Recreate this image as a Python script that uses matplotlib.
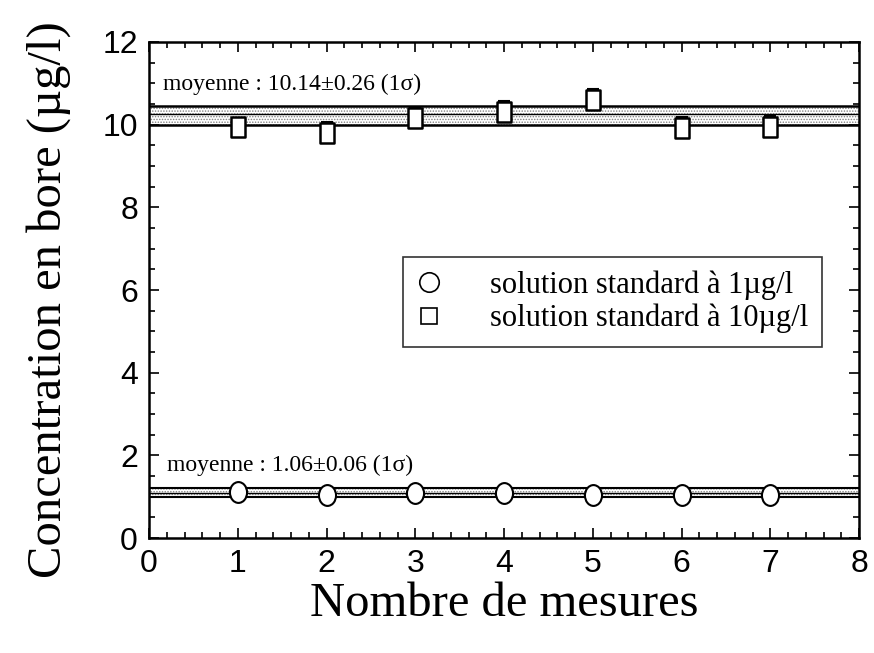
import numpy as np
import matplotlib
matplotlib.use("Agg")
import matplotlib.pyplot as plt
from matplotlib.path import Path
from matplotlib.transforms import Affine2D
from matplotlib.lines import Line2D
from matplotlib.ticker import MultipleLocator

# data
mesures = [1, 2, 3, 4, 5, 6, 7]
std_1 = [1.12, 1.05, 1.08, 1.09, 1.04, 1.03, 1.03]
std_10 = [9.94, 9.80, 10.16, 10.31, 10.60, 9.92, 9.94]
err_10 = [0.20, 0.27, 0.24, 0.26, 0.26, 0.27, 0.27]

# mean bands as drawn (lower, middle, upper)
band_1 = [1.00, 1.10, 1.20]
band_10 = [9.98, 10.26, 10.45]

label_1 = "moyenne : 1.06\u00b10.06 (1\u03c3)"
label_10 = "moyenne : 10.14\u00b10.26 (1\u03c3)"
leg_labels = ["solution standard \u00e0 1\u00b5g/l", "solution standard \u00e0 10\u00b5g/l"]

serif = ["Liberation Serif", "DejaVu Serif"]
sans = ["Liberation Sans", "DejaVu Sans"]
plt.rcParams["hatch.color"] = "0.45"
plt.rcParams["hatch.linewidth"] = 0.7

# slightly tall markers, like the scanned original
ellipse = Path.unit_circle().transformed(Affine2D().scale(0.82, 1.0))
rect = Path([(-0.7, -1), (0.7, -1), (0.7, 1), (-0.7, 1), (-0.7, -1)],
            [Path.MOVETO, Path.LINETO, Path.LINETO, Path.LINETO, Path.CLOSEPOLY])

fig = plt.figure(figsize=(8.74, 6.53), dpi=100)
ax = fig.add_axes([0.1705, 0.176, 0.8125, 0.7597])


def band(b, lw_out):
    ax.axhspan(b[0], b[2], facecolor="white", hatch="......", edgecolor="0.5",
               lw=0, zorder=1)
    for y, lw in zip(b, [lw_out, 1.0, lw_out]):
        ax.axhline(y, color="black", lw=lw, zorder=2)


band(band_10, 1.8)
band(band_1, 1.5)

ax.errorbar(mesures, std_10, yerr=[np.zeros(len(err_10)), err_10], fmt="none",
            ecolor="black", elinewidth=1.5, capsize=4, capthick=1.5, zorder=3)
ax.plot(mesures, std_10, linestyle="none", marker=rect, ms=14, mfc="white",
        mec="black", mew=1.8, zorder=4)
ax.plot(mesures, std_1, linestyle="none", marker=ellipse, ms=15, mfc="white",
        mec="black", mew=1.5, zorder=4)

ax.text(0.16, 10.97, label_10, family=serif, fontsize=17, va="center")
ax.text(0.2, 1.75, label_1, family=serif, fontsize=17, va="center")

handles = [Line2D([], [], ls="none", marker="o", ms=14, mfc="white", mec="black", mew=1.2),
           Line2D([], [], ls="none", marker="s", ms=11, mfc="white", mec="black", mew=1.2)]
leg = ax.legend(handles, leg_labels, loc="upper left", bbox_to_anchor=(0.358, 0.567),
                prop={"family": serif, "size": 22}, frameon=True, fancybox=False,
                edgecolor="black", handletextpad=1.6, handlelength=0.8,
                borderpad=0.45, labelspacing=0.12, borderaxespad=0)
leg.get_frame().set_linewidth(1.2)

ax.set_xlim(0, 8)
ax.set_ylim(0, 12)
ax.xaxis.set_major_locator(MultipleLocator(1))
ax.xaxis.set_minor_locator(MultipleLocator(0.2))
ax.yaxis.set_major_locator(MultipleLocator(2))
ax.yaxis.set_minor_locator(MultipleLocator(0.5))
ax.tick_params(which="both", direction="in", top=True, right=True, width=1.2)
ax.tick_params(which="major", length=7, labelsize=23, pad=8)
ax.tick_params(which="minor", length=4)
for lab in ax.get_xticklabels() + ax.get_yticklabels():
    lab.set_family(sans)
for s in ax.spines.values():
    s.set_linewidth(1.8)

ax.set_xlabel("Nombre de mesures", family=serif, fontsize=35, labelpad=2)
ax.set_ylabel("Concentration en bore (\u00b5g/l)", family=serif, fontsize=35)
ax.yaxis.set_label_coords(-0.11, 0.48)

fig.savefig("out.png", dpi=100)
